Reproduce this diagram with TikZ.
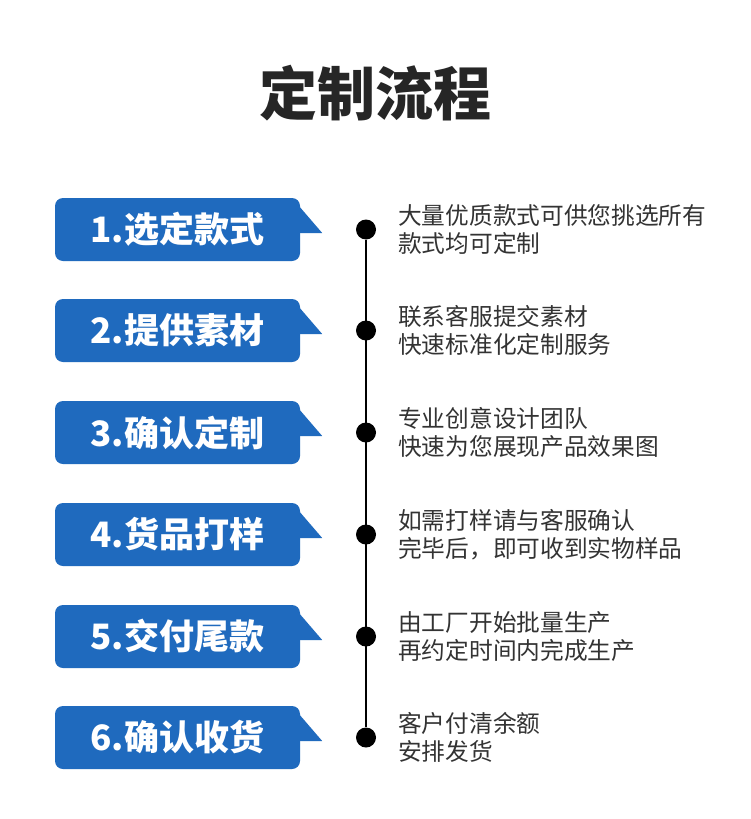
\documentclass[tikz,border=0pt]{standalone}
\usepackage{fontspec}
\setmainfont{Noto Sans CJK SC}
\newfontfamily\cjk{Noto Sans CJK SC}
\usepackage{xcolor}
\usepackage{tikz}
\usetikzlibrary{positioning}

\definecolor{stepblue}{RGB}{31,106,190}
\definecolor{titlegray}{RGB}{38,38,38}
\definecolor{descgray}{RGB}{51,51,51}

\begin{document}
\begin{tikzpicture}[x=1pt, y=-1pt,
  stepbox/.style={fill=stepblue, rounded corners=8pt, minimum width=245pt, minimum height=63pt,
    inner sep=0pt, text=white, font=\cjk\bfseries\fontsize{35}{37}\selectfont},
  dotmark/.style={circle, fill=black, minimum size=20pt, inner sep=0pt},
  desc/.style={anchor=west, align=left, inner sep=0pt, text=descgray,
    font=\cjk\fontsize{23.7}{28}\selectfont}]
% page
\fill[white] (0,0) rectangle (750,819);
\useasboundingbox (0,0) rectangle (750,819);
% title
\node[font=\cjk\bfseries\fontsize{58}{60}\selectfont, text=titlegray] (title) at (375,93) {定制流程};
% steps
\foreach \i/\yc/\name/\la/\lb in {
  1/229.5/选定款式/大量优质款式可供您挑选所有/款式均可定制,
  2/330.5/提供素材/联系客服提交素材/快速标准化定制服务,
  3/432.5/确认定制/专业创意设计团队/快速为您展现产品效果图,
  4/534.5/货品打样/如需打样请与客服确认/完毕后，即可收到实物样品,
  5/636.5/交付尾款/由工厂开始批量生产/再约定时间内完成生产,
  6/737.5/确认收货/客户付清余额/安排发货}
{
  \node[stepbox] (box\i) at (177.5,\yc) {\i.\hspace{1pt}\name\hspace{4pt}};
  \fill[stepblue] ([xshift=-4pt,yshift=-5pt]box\i.north east) -- ([xshift=22pt,yshift=-3.5pt]box\i.east)
    -- ([xshift=-4pt,yshift=-3.5pt]box\i.east) -- cycle;
  \node[dotmark] (dot\i) at (366,\yc) {};
  \node[desc] (desc\i) at (398,\yc) {\la\\\lb};
}
% timeline
\draw[line width=2pt] (dot1) -- (dot6);
\end{tikzpicture}
\end{document}
